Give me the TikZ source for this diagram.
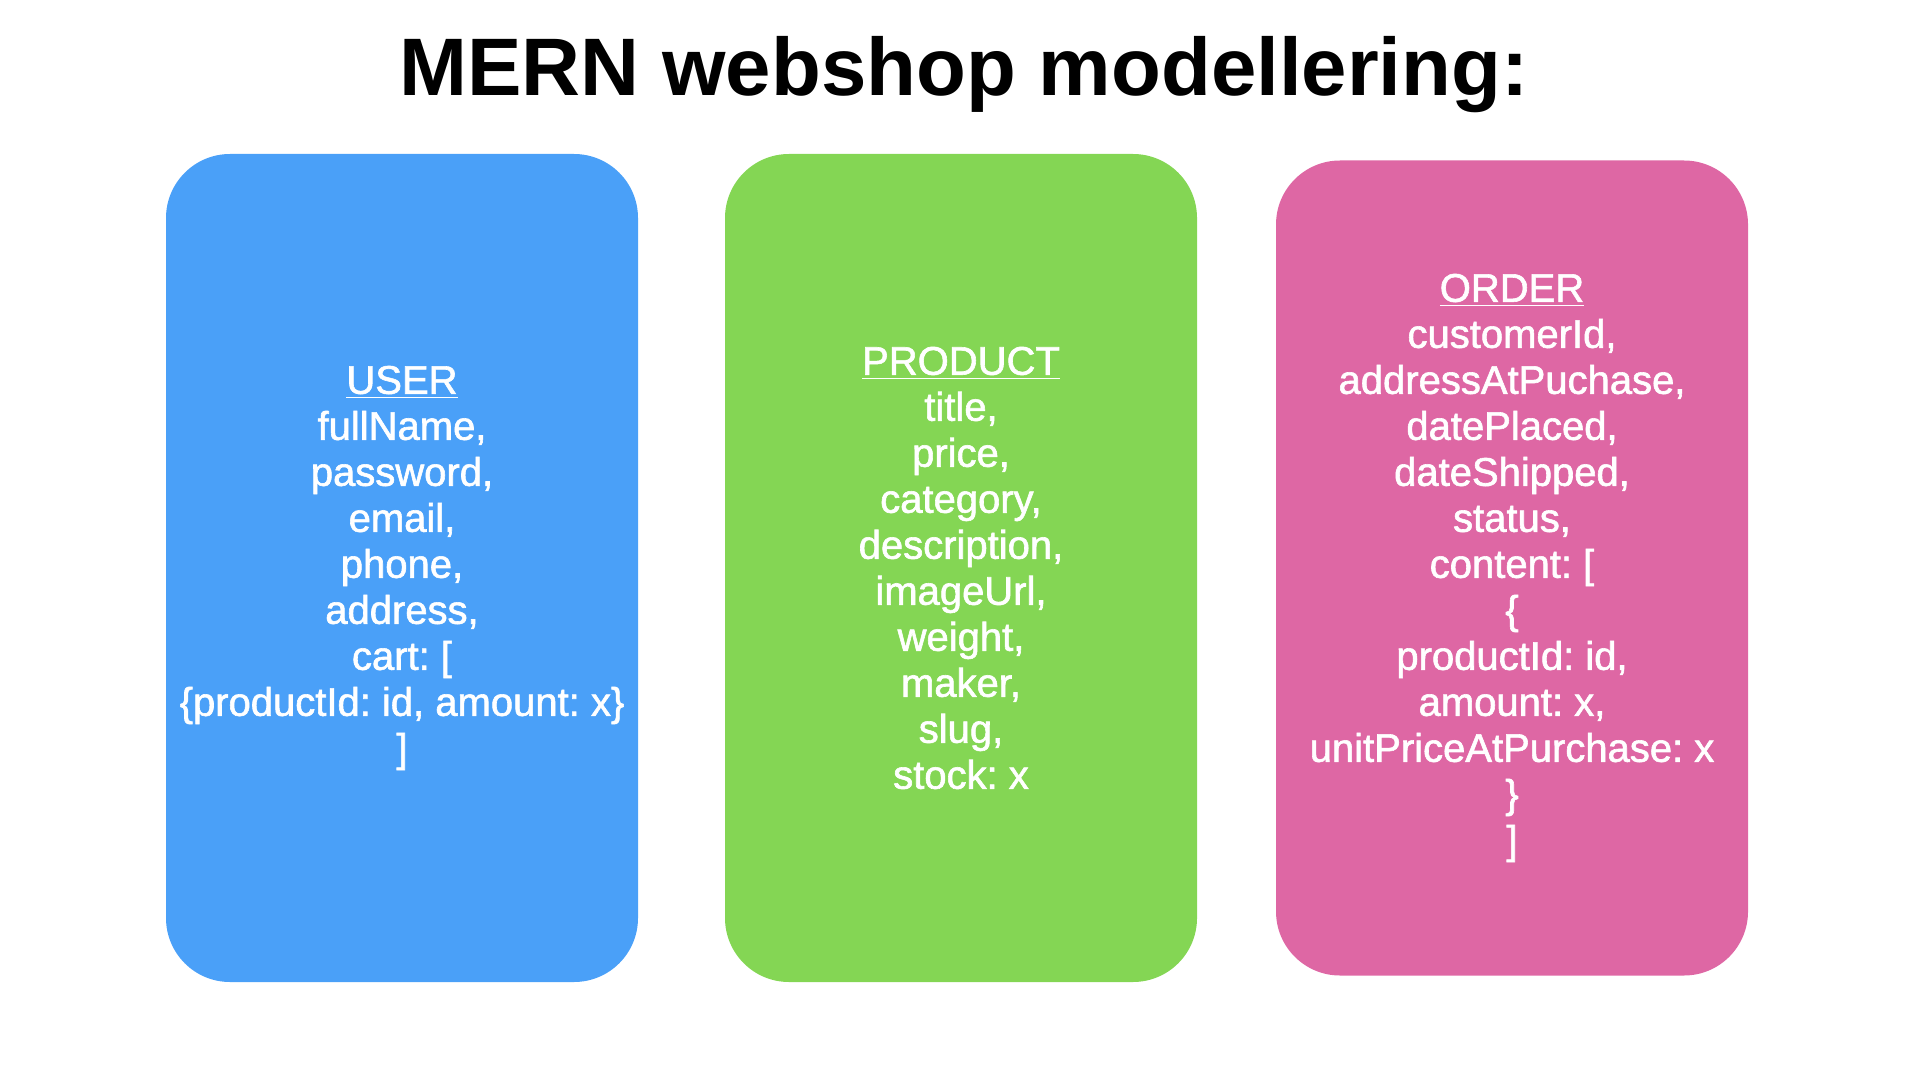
\documentclass[tikz,border=0pt]{standalone}
\usepackage{fontspec}
\setmainfont{Liberation Sans}
\newfontfamily\fieldfont[FakeBold=1.5]{Liberation Sans}
\usepackage{tikz}
\usetikzlibrary{positioning}
\definecolor{userblue}{RGB}{74,160,248}
\definecolor{productgreen}{RGB}{132,214,84}
\definecolor{orderpink}{RGB}{222,103,164}
\tikzset{every picture/.style={x=0.5pt,y=-0.5pt},modelbox/.style={rounded corners=32pt,minimum width=236pt,minimum height=414pt,inner sep=0pt,align=center,text=white,font={\fieldfont\frenchspacing\fontsize{20}{23}\selectfont}}}

\begin{document}
\begin{tikzpicture}
\useasboundingbox (0,0) rectangle (1920,1080);
\node (title) [anchor=base, font={\bfseries\fontsize{40.8}{49}\selectfont}] at (964,96) {MERN webshop modellering:};
\node (user) [modelbox, fill=userblue] at (402,568) {\underline{USER}\\fullName,\\password,\\email,\\phone,\\address,\\cart: [\\\{productId: id, amount: x\}\\]};
\node (product) [right of=user, modelbox, fill=productgreen, node distance=279.5pt] {\underline{PRODUCT}\\title,\\price,\\category,\\description,\\imageUrl,\\weight,\\maker,\\slug,\\stock: x};
\node (order) [right of=product, modelbox, fill=orderpink, minimum height=407.5pt, node distance=275.5pt] {\underline{ORDER}\\customerId,\\addressAtPuchase,\\datePlaced,\\dateShipped,\\status,\\content: [\\\{\\productId: id,\\amount: x,\\unitPriceAtPurchase: x\\\}\\]};
\end{tikzpicture}
\end{document}
